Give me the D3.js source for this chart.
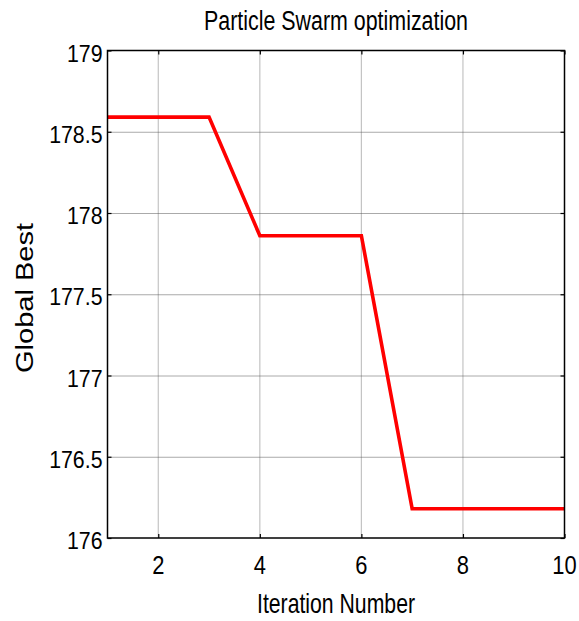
<!DOCTYPE html>
<html>
<head>
<meta charset="utf-8" />
<title>Particle Swarm optimization</title>
<script src="https://cdn.jsdelivr.net/npm/d3@7"></script>
<style>
    body { margin: 0; background: #fff; }
    svg { display: block; font-family: "Liberation Sans", Arial, sans-serif; }
    .axis path { display: none; }
    .axis line { stroke: #000; stroke-width: 1.2; }
</style>
</head>
<body>
<svg id="chart" width="579" height="621"></svg>
<script>
// data
var iterations = [1, 2, 3, 4, 5, 6, 7, 8, 9, 10];
var globalBest = [178.59, 178.59, 178.59, 177.86, 177.86, 177.86, 176.18, 176.18, 176.18, 176.18];
var xTicks = [2, 4, 6, 8, 10];
var yTicks = [176, 176.5, 177, 177.5, 178, 178.5, 179];

var svg = d3.select("#chart"),
    margin = {top: 50.5, right: 14.5, bottom: 83, left: 107.5},
    width = +svg.attr("width") - margin.left - margin.right,
    height = +svg.attr("height") - margin.top - margin.bottom;

var x = d3.scaleLinear().domain([1, 10]).range([0, width]),
    y = d3.scaleLinear().domain([176, 179]).range([height, 0]);

var g = svg.append("g")
    .attr("transform", "translate(" + margin.left + "," + margin.top + ")");

// grid
g.selectAll(".vgrid")
    .data(xTicks.filter(function(d) { return d < 10; }))
    .enter().append("line")
    .attr("x1", function(d) { return x(d); })
    .attr("x2", function(d) { return x(d); })
    .attr("y1", 0).attr("y2", height)
    .attr("stroke", "#c4c4c4").attr("stroke-width", 1.2);

g.selectAll(".hgrid")
    .data(yTicks.filter(function(d) { return d > 176 && d < 179; }))
    .enter().append("line")
    .attr("x1", 0).attr("x2", width)
    .attr("y1", function(d) { return y(d) + 0.5; })
    .attr("y2", function(d) { return y(d) + 0.5; })
    .attr("stroke", "#555").attr("stroke-width", 1)
    .attr("stroke-dasharray", "1,1");

// ticks, pointing inward on all four sides
g.append("g").attr("class", "axis")
    .attr("transform", "translate(0," + height + ")")
    .call(d3.axisBottom(x).tickValues(xTicks).tickSize(-4).tickFormat(""));
g.append("g").attr("class", "axis")
    .call(d3.axisTop(x).tickValues(xTicks).tickSize(-4).tickFormat(""));
g.append("g").attr("class", "axis")
    .call(d3.axisLeft(y).tickValues(yTicks).tickSize(-4).tickFormat(""));
g.append("g").attr("class", "axis")
    .attr("transform", "translate(" + width + ",0)")
    .call(d3.axisRight(y).tickValues(yTicks).tickSize(-4).tickFormat(""));

// tick labels (narrow, like the original)
g.selectAll(".xlab")
    .data(xTicks)
    .enter().append("text")
    .attr("transform", function(d) { return "translate(" + x(d) + "," + (height + 36) + ") scale(0.86,1)"; })
    .attr("text-anchor", "middle")
    .style("font-size", "25.5px")
    .text(function(d) { return d; });

g.selectAll(".ylab")
    .data(yTicks)
    .enter().append("text")
    .attr("transform", function(d) { return "translate(-5," + (y(d) + 11) + ") scale(0.87,1)"; })
    .attr("text-anchor", "end")
    .style("font-size", "24.5px")
    .text(function(d) { return d; });

// the line
var line = d3.line()
    .x(function(d, i) { return x(iterations[i]); })
    .y(function(d) { return y(d); });

g.append("path")
    .datum(globalBest)
    .attr("d", line)
    .attr("fill", "none")
    .attr("stroke", "#ff0000")
    .attr("stroke-width", 3.6)
    .attr("stroke-linejoin", "miter");

// box
g.append("rect")
    .attr("width", width).attr("height", height)
    .attr("fill", "none").attr("stroke", "#000").attr("stroke-width", 1.5);

// titles
svg.append("text")
    .attr("x", margin.left + width / 2).attr("y", 29.5)
    .attr("text-anchor", "middle")
    .attr("textLength", 264).attr("lengthAdjust", "spacingAndGlyphs")
    .style("font-size", "27px")
    .text("Particle Swarm optimization");

svg.append("text")
    .attr("x", margin.left + width / 2).attr("y", 613)
    .attr("text-anchor", "middle")
    .attr("textLength", 158).attr("lengthAdjust", "spacingAndGlyphs")
    .style("font-size", "28px")
    .text("Iteration Number");

svg.append("text")
    .attr("transform", "translate(33,298) rotate(-90)")
    .attr("text-anchor", "middle")
    .attr("textLength", 150).attr("lengthAdjust", "spacingAndGlyphs")
    .style("font-size", "23px")
    .text("Global Best");
</script>
</body>
</html>
